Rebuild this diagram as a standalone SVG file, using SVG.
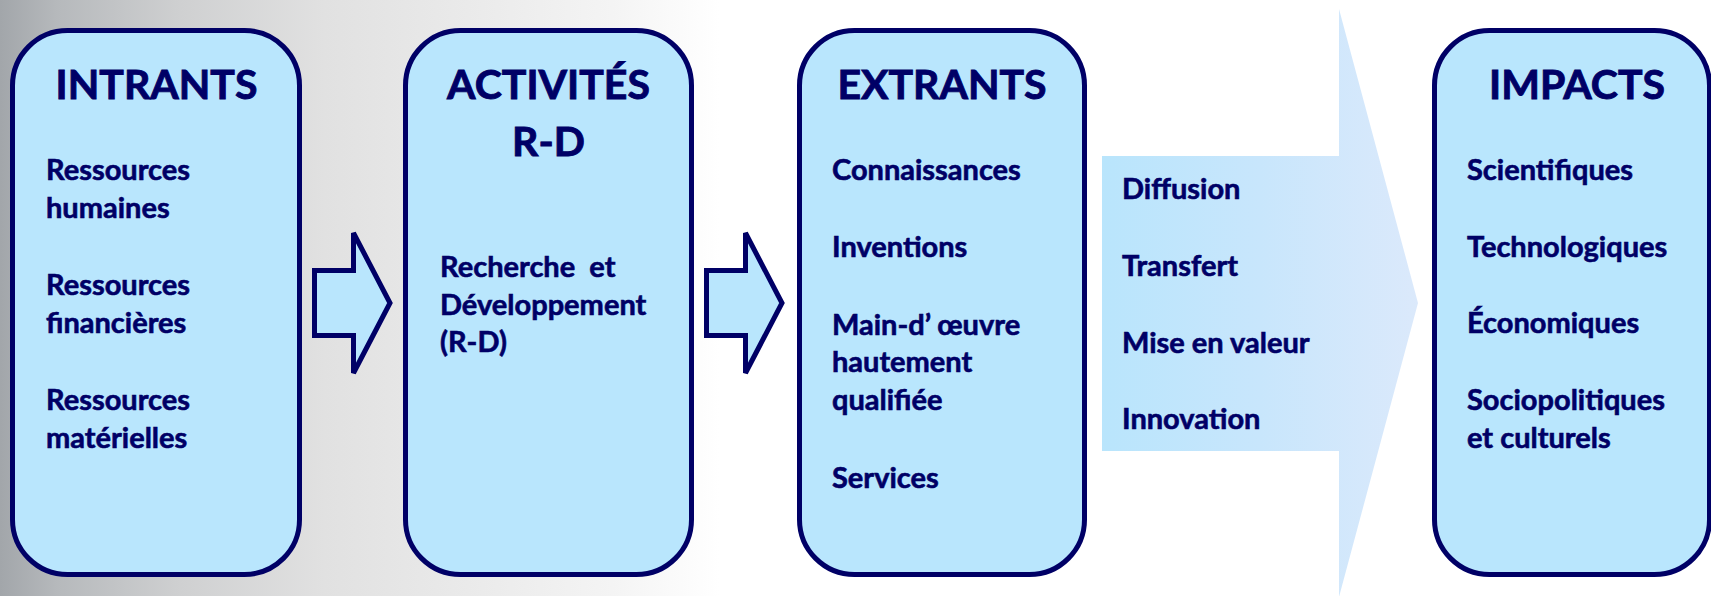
<svg xmlns="http://www.w3.org/2000/svg" width="1711" height="596" viewBox="0 0 1711 596">
  <defs>
    <linearGradient id="bg" gradientUnits="userSpaceOnUse" x1="0" y1="0" x2="720" y2="0">
      <stop offset="0" stop-color="#a2a6aa"/>
      <stop offset="0.08" stop-color="#b6b9bc"/>
      <stop offset="0.25" stop-color="#cfd0d1"/>
      <stop offset="0.45" stop-color="#e1e1e1"/>
      <stop offset="0.65" stop-color="#eaeaea"/>
      <stop offset="0.85" stop-color="#f4f4f4"/>
      <stop offset="1" stop-color="#ffffff"/>
    </linearGradient>
    <linearGradient id="bigArrow" gradientUnits="userSpaceOnUse" x1="1102" y1="0" x2="1418" y2="0">
      <stop offset="0" stop-color="#b9e5fc"/>
      <stop offset="0.5" stop-color="#c8e6fc"/>
      <stop offset="1" stop-color="#dbe9fb"/>
    </linearGradient>
    <style>
      .box { fill: #b9e6fd; stroke: #000066; stroke-width: 5; }
      .arrow { fill: #b9e6fd; stroke: #000066; stroke-width: 5; stroke-linejoin: miter; }
      .head { font-family: Lato, "Liberation Sans", sans-serif; font-weight: 700; font-size: 41px; fill: #000066; stroke: #000066; stroke-width: 0.9; text-anchor: middle; }
      .item { font-family: Lato, "Liberation Sans", sans-serif; font-weight: 700; font-size: 29px; fill: #000066; stroke: #000066; stroke-width: 0.6; }
    </style>
  </defs>

  <rect x="0" y="0" width="1711" height="596" fill="#ffffff"/>
  <rect x="0" y="0" width="720" height="596" fill="url(#bg)"/>

  <g id="connectors">
    <polygon class="arrow" points="314.5,270.5 353.5,270.5 353.5,233 390,303 353.5,373 353.5,335.5 314.5,335.5"/>
    <polygon class="arrow" points="706.5,270.5 745.5,270.5 745.5,233 782,303 745.5,373 745.5,335.5 706.5,335.5"/>
  </g>

  <g id="intrants">
    <rect class="box" x="12.5" y="30.5" width="287" height="544" rx="55" ry="55"/>
    <text class="head" x="156.5" y="99">INTRANTS</text>
    <text class="item" x="46" y="180">Ressources</text>
    <text class="item" x="46" y="218">humaines</text>
    <text class="item" x="46" y="295">Ressources</text>
    <text class="item" x="46" y="333">financières</text>
    <text class="item" x="46" y="410">Ressources</text>
    <text class="item" x="46" y="448">matérielles</text>
  </g>

  <g id="activites">
    <rect class="box" x="405.5" y="30.5" width="286" height="544" rx="55" ry="55"/>
    <text class="head" x="548.5" y="99">ACTIVITÉS</text>
    <text class="head" x="548.5" y="156">R-D</text>
    <text class="item" x="440" y="277" xml:space="preserve">Recherche  et</text>
    <text class="item" x="440" y="315">Développement</text>
    <text class="item" x="440" y="352">(R-D)</text>
  </g>

  <g id="extrants">
    <rect class="box" x="799.5" y="30.5" width="285" height="544" rx="55" ry="55"/>
    <text class="head" x="942" y="99">EXTRANTS</text>
    <text class="item" x="832" y="180">Connaissances</text>
    <text class="item" x="832" y="257">Inventions</text>
    <text class="item" x="832" y="335">Main-d’<tspan dx="7">œuvre</tspan></text>
    <text class="item" x="832" y="372">hautement</text>
    <text class="item" x="832" y="410">qualifiée</text>
    <text class="item" x="832" y="488">Services</text>
  </g>

  <g id="transfert">
    <polygon fill="url(#bigArrow)" points="1102,156 1339,156 1339,9 1418,303 1339,597 1339,451 1102,451"/>
    <text class="item" x="1122" y="199">Diffusion</text>
    <text class="item" x="1122" y="276">Transfert</text>
    <text class="item" x="1122" y="353">Mise en valeur</text>
    <text class="item" x="1122" y="429">Innovation</text>
  </g>

  <g id="impacts">
    <rect class="box" x="1434.5" y="30.5" width="275" height="544" rx="55" ry="55"/>
    <text class="head" x="1577" y="99">IMPACTS</text>
    <text class="item" x="1467" y="180">Scientifiques</text>
    <text class="item" x="1467" y="257">Technologiques</text>
    <text class="item" x="1467" y="333">Économiques</text>
    <text class="item" x="1467" y="410">Sociopolitiques</text>
    <text class="item" x="1467" y="448">et culturels</text>
  </g>
</svg>
